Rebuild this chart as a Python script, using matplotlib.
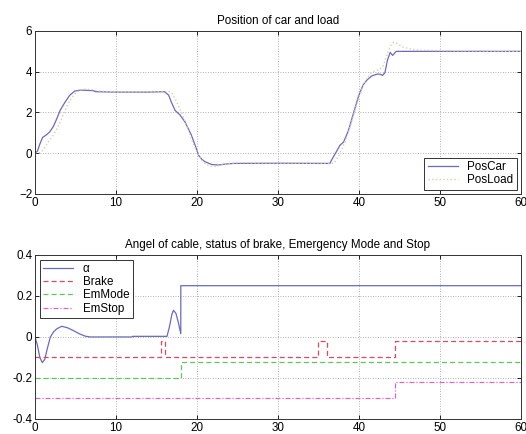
import numpy as np
import matplotlib.pyplot as plt

# Положение тележки и груза
t_car = [0, 0.3, 0.6, 0.95, 1.4, 1.85, 2.3, 2.7, 3.1, 3.7, 4.3, 4.9, 5.6, 7.2, 7.5,
         10, 14, 16, 16.5, 16.9, 17.3, 17.9, 18.5, 19.3, 19.9, 20.2, 20.6, 21.0,
         21.8, 22.6, 23.5, 24.5, 30, 36.4, 36.8, 37.2, 37.65, 38.1, 38.7, 39.3,
         39.9, 40.5, 41.0, 41.6, 42.2, 42.6, 42.9, 43.2, 43.5, 43.85, 44.15,
         44.6, 50, 60]
pos_car = [0, 0.1, 0.45, 0.78, 0.9, 1.06, 1.34, 1.7, 2.1, 2.5, 2.85, 3.05, 3.1,
           3.07, 3.02, 3.0, 3.0, 3.02, 2.85, 2.45, 2.1, 1.88, 1.55, 0.9, 0.25,
           -0.1, -0.3, -0.42, -0.55, -0.58, -0.53, -0.5, -0.49, -0.5, -0.2, 0.07,
           0.39, 0.55, 1.12, 1.94, 2.75, 3.35, 3.6, 3.8, 3.88, 3.88, 3.82, 3.95,
           4.55, 4.95, 4.8, 5.0, 5.0, 5.0]

t_load = [0, 0.5, 1, 1.5, 2, 2.5, 3, 3.5, 4, 4.5, 5, 5.5, 6, 7, 8, 10, 16, 16.5,
          17, 17.5, 18, 18.5, 19, 19.5, 20, 20.5, 21, 21.5, 22, 22.5, 23, 24, 25,
          30, 36, 36.5, 37, 37.5, 38, 38.5, 39, 39.5, 40, 40.5, 41, 41.5, 42,
          42.5, 43, 43.5, 44, 44.3, 44.7, 45.5, 46.5, 48, 52, 60]
pos_load = [0, 0.02, 0.15, 0.45, 0.75, 1.05, 1.45, 1.9, 2.35, 2.7, 2.95, 3.1,
            3.15, 3.12, 3.05, 3.0, 3.02, 3.05, 2.9, 2.5, 2.1, 1.6, 1.05, 0.5,
            0.05, -0.3, -0.5, -0.62, -0.66, -0.63, -0.57, -0.5, -0.47, -0.48,
            -0.49, -0.52, -0.45, -0.1, 0.3, 0.8, 1.4, 2.1, 2.75, 3.3, 3.7, 3.95,
            4.05, 4.1, 4.3, 4.9, 5.35, 5.45, 5.38, 5.2, 5.1, 5.05, 5.02, 5.0]

# Угол троса, тормоз, аварийный режим и останов
t_alpha = [0, 0.3, 0.6, 0.9, 1.2, 1.5, 1.9, 2.3, 2.7, 3.3, 4.0, 4.8, 5.5, 6.2,
           6.8, 12, 12.05, 16.3, 16.6, 16.9, 17.1, 17.4, 17.7, 18, 18, 60]
alpha = [0, -0.04, -0.1, -0.125, -0.11, -0.06, 0.0, 0.025, 0.04, 0.052, 0.045,
         0.03, 0.015, 0.004, 0, 0, 0.003, 0.003, 0.05, 0.11, 0.13, 0.115, 0.07,
         0.016, 0.25, 0.25]

t_brake = [0, 15.5, 16.1, 35.0, 36.1, 44.5, 60]
brake = [-0.1, -0.02, -0.1, -0.02, -0.1, -0.02, -0.02]

t_emmode = [0, 18, 60]
emmode = [-0.2, -0.12, -0.12]

t_emstop = [0, 44.5, 60]
emstop = [-0.3, -0.22, -0.22]

x_ticks = [0, 10, 20, 30, 40, 50, 60]
y1_ticks = [-2, 0, 2, 4, 6]
y2_ticks = [-0.4, -0.2, 0, 0.2, 0.4]
y2_labels = ['-0.4', '-0.2', '0', '0.2', '0.4']

FS = 8.4
plt.rcParams['font.family'] = ['Liberation Sans', 'DejaVu Sans']
plt.rcParams['font.size'] = FS

fig = plt.figure(figsize=(5.26, 4.34), dpi=100)
fig.patch.set_facecolor('white')

ax1 = fig.add_axes([0.0665, 0.553, 0.924, 0.3756])
ax2 = fig.add_axes([0.0665, 0.0346, 0.924, 0.378])


def style_axes(ax):
    ax.set_xlim(0, 60)
    ax.set_xticks(x_ticks)
    ax.tick_params(direction='in', length=3, width=0.6, top=True, right=True,
                   labelsize=FS, pad=2, colors='black')
    ax.grid(True, linestyle=(0, (1, 2)), color='#999999', linewidth=0.6)
    for s in ax.spines.values():
        s.set_linewidth(0.7)
        s.set_color('#333333')


ax1.plot(t_car, pos_car, color='#6a6ac0', linewidth=0.9, label='PosCar')
ax1.plot(t_load, pos_load, color='#e0cca8', linewidth=1.0, linestyle=':',
         label='PosLoad')
style_axes(ax1)
ax1.set_ylim(-2, 6)
ax1.set_yticks(y1_ticks)
ax1.set_title('Position of car and load', fontsize=FS, pad=5)
leg1 = ax1.legend(loc='lower right', fancybox=False, framealpha=1,
                  edgecolor='#333333', fontsize=FS, handlelength=2.6,
                  borderpad=0.3, labelspacing=0.1, borderaxespad=0.35)
leg1.get_frame().set_linewidth(0.7)

ax2.plot(t_alpha, alpha, color='#6a6ac0', linewidth=0.9, label='α')
ax2.step(t_brake, brake, where='post', color='#da4a5a', linewidth=0.9,
         linestyle=(0, (4, 2.5)), label='Brake')
ax2.step(t_emmode, emmode, where='post', color='#5cc85c', linewidth=0.9,
         linestyle=(0, (4, 2.5)), label='EmMode')
ax2.step(t_emstop, emstop, where='post', color='#d46ac8', linewidth=0.9,
         linestyle=(0, (4, 1.5, 1, 1.5)), label='EmStop')
style_axes(ax2)
ax2.set_ylim(-0.4, 0.4)
ax2.set_yticks(y2_ticks)
ax2.set_yticklabels(y2_labels)
ax2.set_title('Angel of cable, status of brake, Emergency Mode and Stop',
              fontsize=FS, pad=5)
leg2 = ax2.legend(loc='upper left', fancybox=False, framealpha=1,
                  edgecolor='#333333', fontsize=FS, handlelength=2.6,
                  borderpad=0.3, labelspacing=0.1, borderaxespad=0.4)
leg2.get_frame().set_linewidth(0.7)

fig.savefig('out.png', dpi=100)
